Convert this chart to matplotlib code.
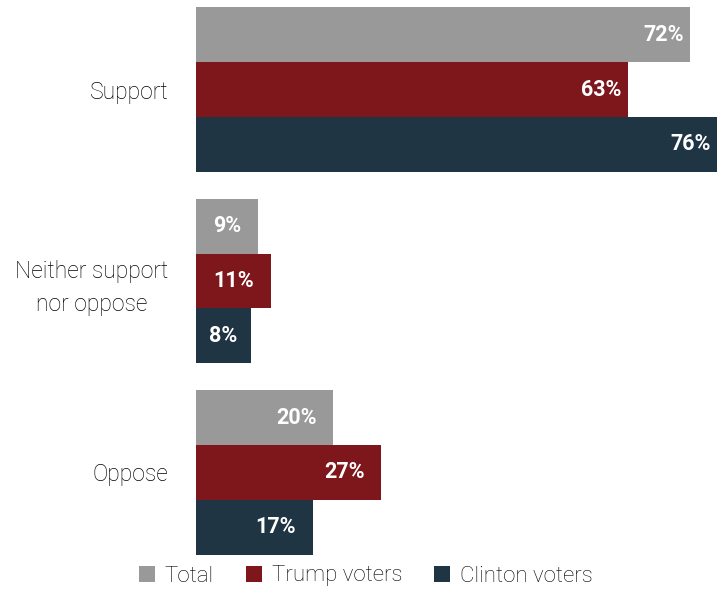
import numpy as np
import matplotlib.pyplot as plt
from matplotlib.patches import Patch

plt.rcParams['font.family'] = ['Roboto', 'DejaVu Sans']

categories = ['Support', 'Neither support\nnor oppose', 'Oppose']
series = ['Total', 'Trump voters', 'Clinton voters']
total = [72, 9, 20]
trump = [63, 11, 27]
clinton = [76, 8, 17]

colors = ['#999999', '#7d171c', '#203544']
values = [total, trump, clinton]

fig = plt.figure(figsize=(7.23, 5.93), dpi=100)
ax = fig.add_axes([196 / 723, 1 - 560 / 593, (720 - 196) / 723, 560 / 593])

group_y = np.array([0, 3.5, 7.0])
offsets = [-1, 0, 1]
# distance of label's right edge from bar end (in %), per category
pad = [0.9, None, 2.4]

for vals, off, col in zip(values, offsets, colors):
    ys = group_y + off
    ax.barh(ys, vals, height=1.0, color=col, edgecolor='none')
    for i, (y, v) in enumerate(zip(ys, vals)):
        if pad[i] is None:
            ax.text(v / 2, y, f'{v}%', ha='center', va='center',
                    color='white', fontsize=15.5, fontweight='bold')
        else:
            ax.text(v - pad[i], y, f'{v}%', ha='right', va='center',
                    color='white', fontsize=15.5, fontweight='bold')

ax.set_xlim(0, 76 * (720 - 196) / (717 - 196))
ax.set_ylim(8.60, -1.636)
ax.set_yticks(group_y)
ax.set_yticklabels(categories, fontsize=16.5, color='#000000', linespacing=1.55,
                   fontweight='light', multialignment='center')
ax.tick_params(axis='y', length=0, pad=20)
ax.set_xticks([])
for s in ax.spines.values():
    s.set_visible(False)

handles = [Patch(facecolor=c, edgecolor='none') for c in colors]
fig.legend(handles, series, loc='center', bbox_to_anchor=(366 / 723, 1 - 576 / 593),
           ncol=3, frameon=False, handlelength=0.7, handleheight=0.7,
           handletextpad=0.45, columnspacing=1.45, labelcolor='#000000',
           prop={'weight': 'light', 'size': 16})

fig.savefig('out.png', dpi=100)
